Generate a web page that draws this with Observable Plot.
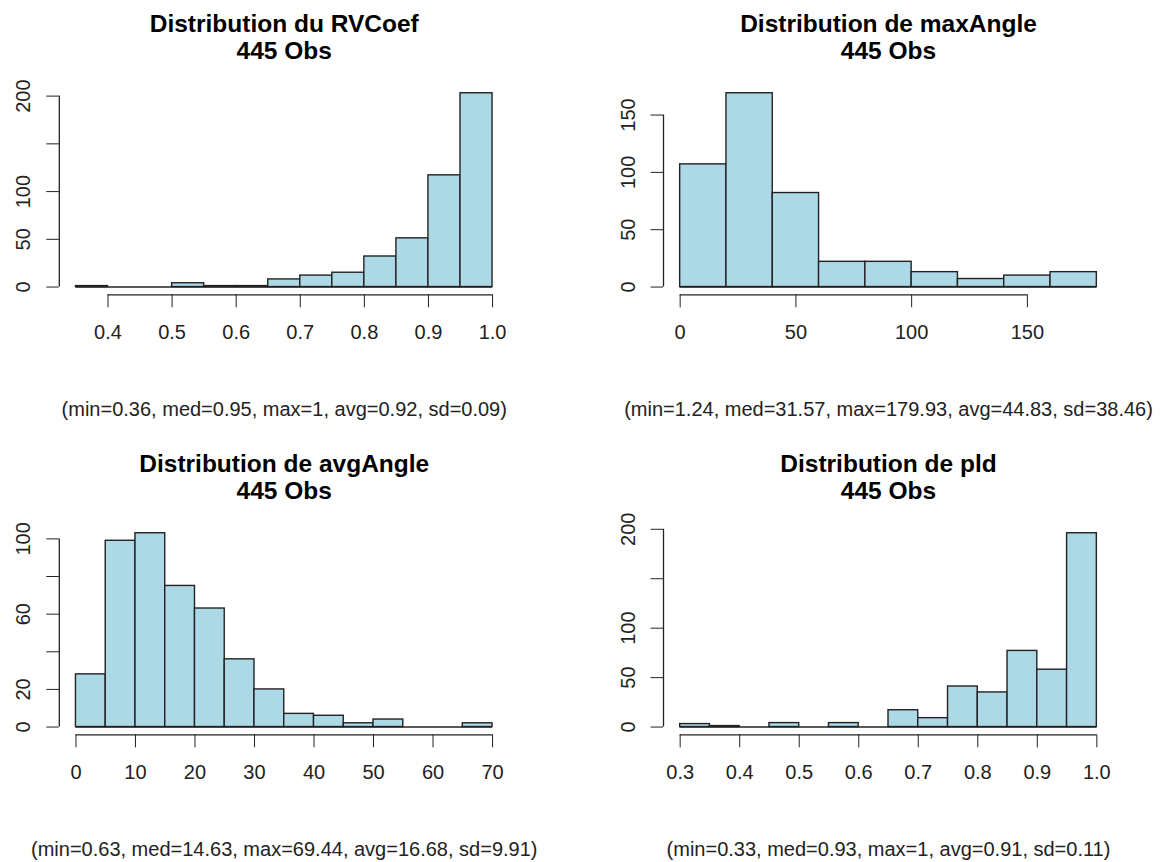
<!DOCTYPE html>
<html><head><meta charset="utf-8">
<script src="https://cdn.jsdelivr.net/npm/d3@7"></script>
<script src="https://cdn.jsdelivr.net/npm/@observablehq/plot@0.6"></script>
<style>
body{margin:0;background:#fff;}
#chart{position:relative;width:1170px;height:862px;overflow:hidden;background:#fff;}
#chart svg{position:absolute;}
</style></head><body><div id="chart"></div>
<script>
// ---- Data ----
const rvBreaks = [0.35,0.40,0.45,0.50,0.55,0.60,0.65,0.70,0.75,0.80,0.85,0.90,0.95,1.00];
const rvCounts = [1,0,0,4,1,1,8,12,15,32,51,117,203];
const rvXTicks = [0.4,0.5,0.6,0.7,0.8,0.9,1.0];
const rvXLabels = ["0.4","0.5","0.6","0.7","0.8","0.9","1.0"];
const rvYTicks = [0,50,100,150,200];
const rvYLabels = [0,50,100,200];

const maxBreaks = [0,20,40,60,80,100,120,140,160,180];
const maxCounts = [107,169,82,22,22,13,7,10,13];
const maxXTicks = [0,50,100,150];
const maxXLabels = ["0","50","100","150"];
const maxYTicks = [0,50,100,150];
const maxYLabels = [0,50,100,150];

const avgBreaks = [0,5,10,15,20,25,30,35,40,45,50,55,60,65,70];
const avgCounts = [28,99,103,75,63,36,20,7,6,2,4,0,0,2];
const avgXTicks = [0,10,20,30,40,50,60,70];
const avgXLabels = ["0","10","20","30","40","50","60","70"];
const avgYTicks = [0,20,40,60,80,100];
const avgYLabels = [0,20,60,100];

const pldBreaks = [0.30,0.35,0.40,0.45,0.50,0.55,0.60,0.65,0.70,0.75,0.80,0.85,0.90,0.95,1.00];
const pldCounts = [3,1,0,4,0,4,0,17,9,41,35,77,58,196];
const pldXTicks = [0.3,0.4,0.5,0.6,0.7,0.8,0.9,1.0];
const pldXLabels = ["0.3","0.4","0.5","0.6","0.7","0.8","0.9","1.0"];
const pldYTicks = [0,50,100,150,200];
const pldYLabels = [0,50,100,200];

const titles = ["Distribution du RVCoef\n445 Obs","Distribution de maxAngle\n445 Obs","Distribution de avgAngle\n445 Obs","Distribution de pld\n445 Obs"];
const captions = ["(min=0.36, med=0.95, max=1, avg=0.92, sd=0.09)",
  "(min=1.24, med=31.57, max=179.93, avg=44.83, sd=38.46)",
  "(min=0.63, med=14.63, max=69.44, avg=16.68, sd=9.91)",
  "(min=0.33, med=0.93, max=1, avg=0.91, sd=0.11)"];

// ---- Layout ----
const INK = "#222";
const FONT = "'Liberation Sans', Arial, Helvetica, sans-serif";
const layouts = [
  {left:0,   top:0,   w:585, h:440, ml:58.8, mr:76.3, mt:85, mb:145.7},
  {left:585, top:0,   w:585, h:440, ml:78,   mr:57,   mt:85, mb:145.7},
  {left:0,   top:440, w:585, h:422, ml:58.8, mr:76.3, mt:85, mb:127.7},
  {left:585, top:440, w:585, h:422, ml:78,   mr:57,   mt:85, mb:127.7}
];
const series = [
  {breaks:rvBreaks, counts:rvCounts, xTicks:rvXTicks, xLabels:rvXLabels, yTicks:rvYTicks, yLabels:rvYLabels},
  {breaks:maxBreaks, counts:maxCounts, xTicks:maxXTicks, xLabels:maxXLabels, yTicks:maxYTicks, yLabels:maxYLabels},
  {breaks:avgBreaks, counts:avgCounts, xTicks:avgXTicks, xLabels:avgXLabels, yTicks:avgYTicks, yLabels:avgYLabels},
  {breaks:pldBreaks, counts:pldCounts, xTicks:pldXTicks, xLabels:pldXLabels, yTicks:pldYTicks, yLabels:pldYLabels}
];

function histPanel(s, L, title, caption) {
  const bins = s.counts.map((c, i) => ({x1: s.breaks[i], x2: s.breaks[i + 1], count: c}));
  const lo = s.breaks[0], hi = s.breaks[s.breaks.length - 1];
  const ext = (hi - lo) * 0.04;
  const ymax = d3.max(s.counts);
  const yext = ymax * 0.04;
  return Plot.plot({
    width: L.w, height: L.h,
    marginLeft: L.ml, marginRight: L.mr, marginTop: L.mt, marginBottom: L.mb,
    style: {fontFamily: FONT, fontSize: "20px", color: INK, background: "white", overflow: "visible"},
    x: {domain: [lo - ext, hi + ext], ticks: s.xTicks, tickSize: 13, tickFormat: () => "", label: null},
    y: {domain: [-yext, ymax + yext], ticks: s.yTicks, tickSize: 12.5, tickFormat: () => "", label: null},
    marks: [
      Plot.rectY(bins, {x1: "x1", x2: "x2", y: "count", fill: "#ADD8E6", stroke: INK, strokeWidth: 1.4}),
      Plot.ruleY([0], {x1: lo, x2: hi, stroke: INK, strokeWidth: 1.4}),
      Plot.ruleY([-yext], {x1: s.xTicks[0], x2: s.xTicks[s.xTicks.length - 1], stroke: INK, strokeWidth: 1.3}),
      Plot.ruleX([lo - ext], {y1: s.yTicks[0], y2: s.yTicks[s.yTicks.length - 1], stroke: INK, strokeWidth: 1.3}),
      Plot.text(s.xTicks, {x: d => d, text: (d, i) => s.xLabels[i], frameAnchor: "bottom", dy: 44.5,
        lineAnchor: "bottom", textAnchor: "middle", fontSize: 20, fill: INK}),
      Plot.text(s.yLabels, {y: d => d, text: d => String(d), frameAnchor: "left", dx: -29,
        rotate: -90, textAnchor: "middle", lineAnchor: "bottom", fontSize: 20, fill: INK}),
      Plot.text([title], {text: d => d, frameAnchor: "top", dy: -26.5, lineAnchor: "bottom",
        textAnchor: "middle", fontSize: 24.5, fontWeight: "bold", lineHeight: 1.12, fill: "#000"}),
      Plot.text([caption], {text: d => d, frameAnchor: "bottom", dy: 121, lineAnchor: "bottom",
        textAnchor: "middle", fontSize: 20, fill: INK})
    ]
  });
}

const chart = document.getElementById("chart");
series.forEach((s, i) => {
  const L = layouts[i];
  const svg = histPanel(s, L, titles[i], captions[i]);
  svg.style.left = L.left + "px";
  svg.style.top = L.top + "px";
  svg.style.position = "absolute";
  chart.appendChild(svg);
});
</script></body></html>
